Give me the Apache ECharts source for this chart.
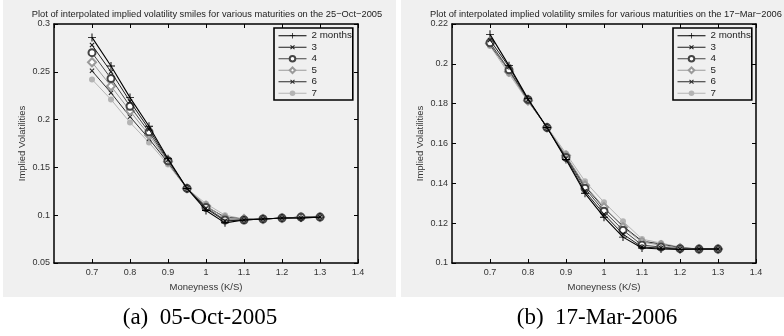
<!DOCTYPE html>
<html><head><meta charset="utf-8">
<script src="https://cdn.jsdelivr.net/npm/echarts@6/dist/echarts.min.js"></script>
<style>html,body{margin:0;padding:0;background:#fff}#c{width:784px;height:336px}</style>
</head><body><div id="c"></div>
<script>
const moneyness = [0.7,0.75,0.8,0.85,0.9,0.95,1.0,1.05,1.1,1.15,1.2,1.25,1.3];
const seriesNames = ['2 months','3','4','5','6','7'];

// Panel (a): 25-Oct-2005
const m2_a = [0.286,0.256,0.223,0.193,0.159,0.128,0.105,0.092,0.095,0.096,0.097,0.097,0.098];
const m3_a = [0.278,0.250,0.219,0.190,0.158,0.128,0.107,0.094,0.095,0.096,0.097,0.097,0.098];
const m4_a = [0.270,0.243,0.214,0.187,0.157,0.128,0.108,0.095,0.095,0.096,0.097,0.098,0.098];
const m5_a = [0.260,0.235,0.209,0.184,0.156,0.128,0.110,0.097,0.096,0.096,0.097,0.098,0.098];
const m6_a = [0.251,0.228,0.203,0.180,0.155,0.128,0.109,0.098,0.096,0.096,0.097,0.098,0.098];
const m7_a = [0.242,0.221,0.197,0.176,0.153,0.128,0.112,0.100,0.096,0.096,0.097,0.098,0.099];

// Panel (b): 17-Mar-2006
const m2_b = [0.2148,0.1991,0.1825,0.168,0.152,0.135,0.123,0.113,0.1075,0.107,0.1068,0.107,0.107];
const m3_b = [0.212,0.1985,0.182,0.168,0.1525,0.136,0.1245,0.1145,0.108,0.1075,0.107,0.107,0.107];
const m4_b = [0.2106,0.197,0.182,0.168,0.153,0.1375,0.126,0.1165,0.109,0.108,0.1072,0.107,0.107];
const m5_b = [0.2102,0.196,0.1815,0.168,0.154,0.139,0.128,0.118,0.1105,0.109,0.1075,0.107,0.107];
const m6_b = [0.2095,0.1965,0.1815,0.168,0.1535,0.1385,0.1275,0.1185,0.111,0.1095,0.1077,0.107,0.107];
const m7_b = [0.209,0.195,0.181,0.1685,0.155,0.141,0.1305,0.121,0.112,0.110,0.108,0.107,0.107];

const titleA = 'Plot of interpolated implied volatility smiles for various maturities on the 25\u2212Oct\u22122005';
const titleB = 'Plot of interpolated implied volatility smiles for various maturities on the 17\u2212Mar\u22122006';
const captionA = '(a)  05-Oct-2005';
const captionB = '(b)  17-Mar-2006';
const xName = 'Moneyness (K/S)';
const yName = 'Implied Volatilities';

const dataA = [m2_a,m3_a,m4_a,m5_a,m6_a,m7_a];
const dataB = [m2_b,m3_b,m4_b,m5_b,m6_b,m7_b];

const PLUS = 'path://M0,4.4L10,4.4L10,5.6L0,5.6Z M4.4,0L5.6,0L5.6,10L4.4,10Z';
const CROSS = 'path://M0,4.1L10,4.1L10,5.9L0,5.9Z M4.1,0L5.9,0L5.9,10L4.1,10Z';
const styles = [
  {color:'#000000', symbol:PLUS, size:8, rot:0, w:1.1, bw:0},
  {color:'#1e1e1e', symbol:CROSS, size:6, rot:45, w:1, bw:0},
  {color:'#454545', symbol:'emptyCircle', size:7, rot:0, w:1, bw:0.8},
  {color:'#9a9a9a', symbol:'emptyDiamond', size:8, rot:0, w:1, bw:0.8},
  {color:'#2a2a2a', symbol:CROSS, size:6, rot:45, w:1, bw:0},
  {color:'#b4b4b4', symbol:'circle', size:6, rot:0, w:1, bw:0}
];

const FONT = 'Liberation Sans, Arial, sans-serif';
const BG = '#f0f0f0';

function mkSeries(data, xi, yi){
  return data.map((arr,i)=>({
    type:'line', name:seriesNames[i], xAxisIndex:xi, yAxisIndex:yi,
    data: moneyness.map((m,k)=>[m,arr[k]]),
    symbol: styles[i].symbol, symbolSize: styles[i].size, symbolRotate: styles[i].rot,
    showAllSymbol:true, animation:false,
    lineStyle:{color:styles[i].color, width:styles[i].w},
    itemStyle:{color:styles[i].color, borderColor:styles[i].color, borderWidth:styles[i].bw},
    emphasis:{disabled:true}, z: 10 - i
  }));
}

function mkX(gi, pos, show){
  return {type:'value', gridIndex:gi, position:pos, min:0.6, max:1.4, interval:0.1,
    axisLine:{show:true, onZero:false, lineStyle:{color:'#000', width:1.5}},
    axisTick:{show:true, inside:true, length:4, lineStyle:{color:'#000'}},
    axisLabel:{show:show, showMinLabel:false, margin:5, fontSize:9, color:'#333', fontFamily:FONT},
    splitLine:{show:false},
    name: show ? xName : '', nameLocation:'middle', nameGap:16,
    nameTextStyle:{fontSize:9.5, color:'#333', fontFamily:FONT}};
}
function mkY(gi, pos, show, min, max, itv){
  return {type:'value', gridIndex:gi, position:pos, min:min, max:max, interval:itv,
    axisLine:{show:true, onZero:false, lineStyle:{color:'#000', width:1.5}},
    axisTick:{show:true, inside:true, length:4, lineStyle:{color:'#000'}},
    axisLabel:{show:show, margin:4, fontSize:9, color:'#333', fontFamily:FONT},
    splitLine:{show:false},
    name: show ? yName : '', nameLocation:'middle', nameGap:27,
    nameTextStyle:{fontSize:9.5, color:'#333', fontFamily:FONT}};
}
function mkLegend(left){
  return {orient:'vertical', left:left, top:28, data:seriesNames,
    itemWidth:28, itemHeight:7, itemGap:0, padding:[2,1,1,4],
    borderColor:'#000', borderWidth:1.6, backgroundColor:BG,
    lineStyle:{width:1}, symbolRotate:'inherit',
    textStyle:{fontSize:9.8, lineHeight:11.5, color:'#222', fontFamily:FONT},
    selectedMode:false};
}

const chart = echarts.init(document.getElementById('c'), null, {renderer:'canvas'});
chart.setOption({
  backgroundColor:'#ffffff',
  animation:false,
  graphic:[
    {type:'rect', shape:{x:3,y:0,width:393,height:297}, style:{fill:BG}, z:-10, silent:true},
    {type:'rect', shape:{x:401,y:0,width:383,height:297}, style:{fill:BG}, z:-10, silent:true},
    {type:'text', x:207, y:14, style:{text:titleA, textAlign:'center', textVerticalAlign:'middle', font:'9.3px '+FONT, fill:'#222'}},
    {type:'text', x:606, y:14, style:{text:titleB, textAlign:'center', textVerticalAlign:'middle', font:'9.3px '+FONT, fill:'#222'}},
    {type:'text', x:200, y:318, style:{text:captionA, textAlign:'center', textVerticalAlign:'middle', font:'23px Liberation Serif, Times New Roman, serif', fill:'#000'}},
    {type:'text', x:597, y:318, style:{text:captionB, textAlign:'center', textVerticalAlign:'middle', font:'23px Liberation Serif, Times New Roman, serif', fill:'#000'}}
  ],
  grid:[
    {left:54, top:24, width:304, height:239, show:true, backgroundColor:BG, borderWidth:0},
    {left:452, top:24, width:304, height:239, show:true, backgroundColor:BG, borderWidth:0}
  ],
  xAxis:[ mkX(0,'bottom',true), mkX(0,'top',false), mkX(1,'bottom',true), mkX(1,'top',false) ],
  yAxis:[ mkY(0,'left',true,0.05,0.3,0.05), mkY(0,'right',false,0.05,0.3,0.05),
          mkY(1,'left',true,0.1,0.22,0.02), mkY(1,'right',false,0.1,0.22,0.02) ],
  legend:[ mkLegend(274), mkLegend(673) ],
  series:[].concat(mkSeries(dataA,0,0), mkSeries(dataB,2,2))
});
</script></body></html>
